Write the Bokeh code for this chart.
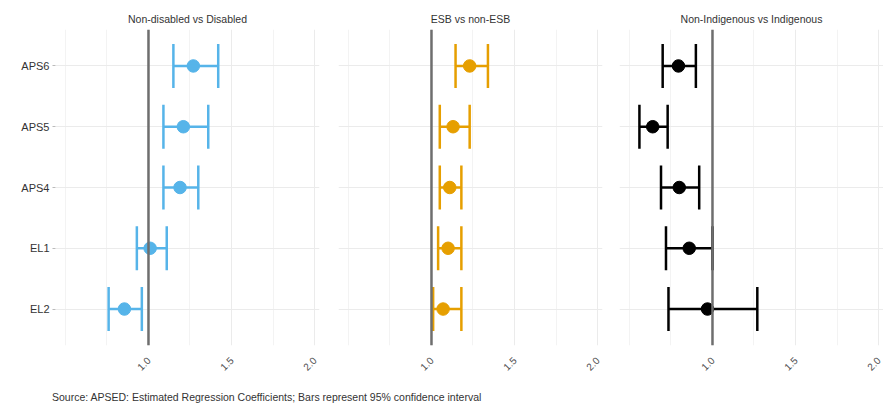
import math
from bokeh.plotting import figure
from bokeh.layouts import row, column
from bokeh.models import (Div, Span, FixedTicker, Whisker, TeeHead, NumeralTickFormatter,
                          ColumnDataSource, FactorRange, Range1d)
from bokeh.embed import file_html
from bokeh.resources import INLINE

# ---- data ----
levels = ["APS6", "APS5", "APS4", "EL1", "EL2"]
panel_titles = ["Non-disabled vs Disabled", "ESB vs non-ESB", "Non-Indigenous vs Indigenous"]
panel_colors = ["#56B4E9", "#E69F00", "#000000"]

est_p1 = [1.27, 1.21, 1.19, 1.01, 0.855]
lo_p1 = [1.15, 1.09, 1.09, 0.93, 0.76]
hi_p1 = [1.42, 1.36, 1.30, 1.11, 0.96]

est_p2 = [1.23, 1.13, 1.11, 1.10, 1.07]
lo_p2 = [1.145, 1.05, 1.05, 1.04, 1.01]
hi_p2 = [1.34, 1.23, 1.18, 1.18, 1.18]

est_p3 = [0.795, 0.64, 0.80, 0.86, 0.97]
lo_p3 = [0.70, 0.56, 0.69, 0.72, 0.735]
hi_p3 = [0.90, 0.73, 0.92, 1.00, 1.27]

x_ticks = [1.0, 1.5, 2.0]
x_minor = [0.5, 0.75, 1.25, 1.75]
ref_value = 1.0
caption = "Source: APSED: Estimated Regression Coefficients; Bars represent 95% confidence interval"

FONT = "Liberation Sans"
y_range = FactorRange(*list(reversed(levels)), range_padding=0.1,
                      range_padding_units="absolute")

series = [(est_p1, lo_p1, hi_p1), (est_p2, lo_p2, hi_p2), (est_p3, lo_p3, hi_p3)]
borders = [(55, 9), (10, 9), (8, 0)]
figs = []
for i, (title, color, (est, lo, hi)) in enumerate(zip(panel_titles, panel_colors, series)):
    p = figure(y_range=y_range, x_range=Range1d(0.44, 2.03),
               frame_width=264, frame_height=316,
               min_border_left=borders[i][0], min_border_right=borders[i][1],
               min_border_top=29, min_border_bottom=8,
               toolbar_location=None, output_backend="svg", title=title)
    p.title.align = "center"
    p.title.text_font = FONT
    p.title.text_font_size = "10.5px"
    p.title.text_font_style = "normal"
    p.title.text_color = "#333333"
    p.title.standoff = 9
    p.outline_line_color = None
    p.background_fill_color = "white"
    p.border_fill_color = "white"

    ticker = FixedTicker(ticks=x_ticks, minor_ticks=x_minor)
    p.xaxis.ticker = ticker
    p.xaxis.formatter = NumeralTickFormatter(format="0.0")
    p.xgrid.ticker = ticker
    p.xgrid.grid_line_color = "#EBEBEB"
    p.xgrid.minor_grid_line_color = "#F3F3F3"
    p.ygrid.grid_line_color = "#EBEBEB"
    p.xaxis.axis_line_color = None
    p.xaxis.major_tick_line_color = None
    p.xaxis.minor_tick_line_color = None
    p.xaxis.major_label_orientation = math.pi / 4
    p.xaxis.major_label_text_font = FONT
    p.xaxis.major_label_text_font_size = "10px"
    p.xaxis.major_label_text_color = "#4D4D4D"
    p.xaxis.major_label_standoff = 7

    p.yaxis.axis_line_color = None
    p.yaxis.major_tick_line_color = "#BBBBBB"
    p.yaxis.major_tick_out = 3
    p.yaxis.major_tick_in = 0
    p.yaxis.major_label_text_font = FONT
    p.yaxis.major_label_text_font_size = "11px"
    p.yaxis.major_label_text_color = "#333333"
    p.yaxis.major_label_standoff = 3
    if i > 0:
        p.yaxis.visible = False

    src = ColumnDataSource(dict(level=levels, est=est, lo=lo, hi=hi))
    head_kw = dict(size=44, line_color=color, line_width=2.5)
    w = Whisker(source=src, base="level", lower="lo", upper="hi", dimension="width",
                line_color=color, line_width=2.5,
                lower_head=TeeHead(**head_kw), upper_head=TeeHead(**head_kw),
                level="glyph")
    p.add_layout(w)
    p.scatter(x="est", y="level", source=src, size=12.5, color=color)
    p.add_layout(Span(location=ref_value, dimension="height",
                      line_color="#6E6E6E", line_width=2.5))
    figs.append(p)

div = Div(text=caption, width=600, height=14, margin=(14, 0, 0, 52),
          styles={"font-family": FONT, "font-size": "10.5px", "color": "#333333",
                  "white-space": "nowrap"})

layout = column(row(*figs, spacing=0), div, spacing=0)
open("out.html", "w").write(file_html(layout, INLINE))
